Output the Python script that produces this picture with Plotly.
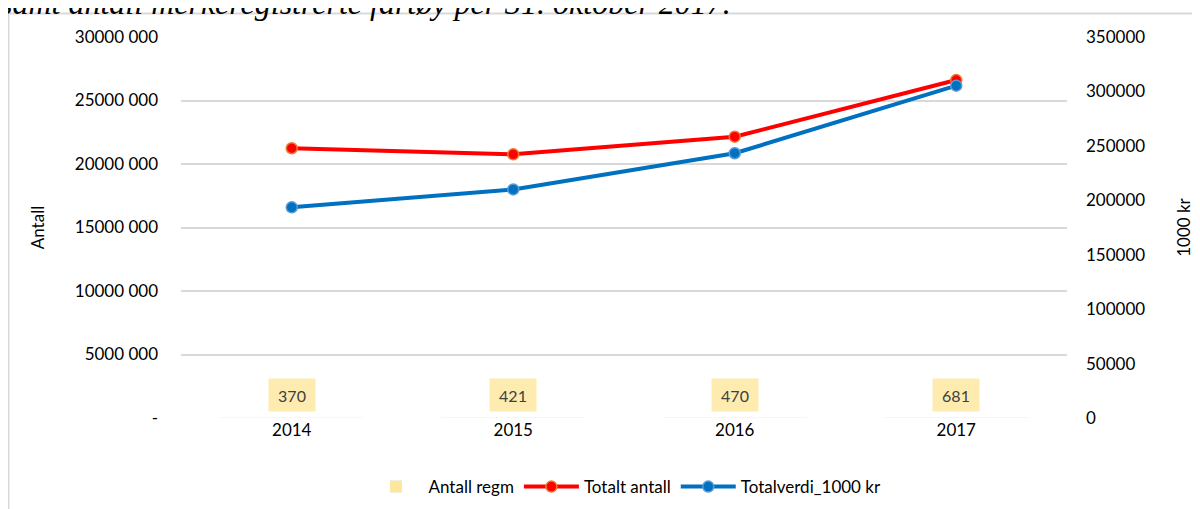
import plotly.graph_objects as go

years = ["2014", "2015", "2016", "2017"]
antall_regm = [370, 421, 470, 681]
totalt_antall = [21240000, 20760000, 22150000, 26610000]
totalverdi = [193500, 210000, 243200, 305300]

left_ticks = [0, 5000000, 10000000, 15000000, 20000000, 25000000, 30000000]
left_ticktext = ["-", "5000 000", "10000 000", "15000 000", "20000 000", "25000 000", "30000 000"]
right_ticks = [0, 50000, 100000, 150000, 200000, 250000, 300000, 350000]
right_ticktext = [str(v) for v in right_ticks]

title_text = "samt antall merkeregistrerte fartøy per 31. oktober 2017."

FONT = "Lato, Carlito, Calibri, sans-serif"
FS = 16

# page body has an 8px default margin; work in figure pixel coords
OFF = 8
PL, PT, PW, PH = 181 - OFF, 37 - OFF, 886, 381
W, H = 1200, 509


def px(xs):
    return (xs - OFF - PL) / PW


def py(ys):
    return (PT + PH - (ys - OFF)) / PH


fig = go.Figure()
fig.add_trace(go.Bar(
    x=years, y=antall_regm, name="Antall regm",
    marker=dict(color="#FFE699"), width=0.65, yaxis="y",
))
fig.add_trace(go.Scatter(
    x=years, y=totalt_antall, name="Totalt antall", mode="lines+markers",
    line=dict(color="#FF0000", width=4),
    marker=dict(size=11, color="#FF0000", line=dict(color="#ED7D31", width=1.5)),
    yaxis="y",
))
fig.add_trace(go.Scatter(
    x=years, y=totalverdi, name="Totalverdi_1000 kr", mode="lines+markers",
    line=dict(color="#0070C0", width=4),
    marker=dict(size=11, color="#0070C0", line=dict(color="#5B9BD5", width=1.5)),
    yaxis="y2",
))

annotations = []
for i, v in enumerate(antall_regm):
    annotations.append(dict(
        x=i, xref="x", y=py(395), yref="paper", text=str(v), showarrow=False,
        font=dict(family=FONT, size=FS, color="#404040"),
        bgcolor="#FDEBB0", width=44, height=30, xanchor="center", yanchor="middle",
    ))
annotations.append(dict(
    x=px(-2), xref="paper", y=py(3), yref="paper",
    text=title_text, showarrow=False, xanchor="left", yanchor="middle",
    font=dict(family="Liberation Serif, serif", size=32, color="#000000", style="italic"),
))

fig.update_layout(
    width=W, height=H,
    margin=dict(l=PL, r=W - PL - PW, t=PT, b=H - PT - PH, autoexpand=False),
    paper_bgcolor="white", plot_bgcolor="white",
    font=dict(family=FONT, size=FS, color="#000000"),
    showlegend=True,
    legend=dict(orientation="h", x=px(625), xanchor="center", y=py(487), yanchor="middle",
                font=dict(family=FONT, size=17, color="#000000"), traceorder="normal",
                itemwidth=55),
    xaxis=dict(type="category", showgrid=False, showline=False, ticks="",
               tickfont=dict(size=17), automargin=False),
    yaxis=dict(range=[0, 30000000], tickvals=left_ticks, ticktext=left_ticktext,
               showgrid=True, gridcolor="#D9D9D9", gridwidth=1.5, zeroline=False,
               showline=False, ticklabelstandoff=22, automargin=False,
               tickfont=dict(size=17),
               title=dict(text="Antall", font=dict(size=17), standoff=25)),
    yaxis2=dict(range=[0, 350000], tickvals=right_ticks, ticktext=right_ticktext,
                overlaying="y", side="right", showgrid=False, zeroline=False,
                showline=False, ticklabelstandoff=18, automargin=False,
                tickfont=dict(size=17),
                title=dict(text="1000 kr", font=dict(size=17), standoff=33)),
    annotations=annotations,
    shapes=[dict(type="rect", xref="paper", yref="paper",
                 x0=px(8.5), x1=px(1230), y0=py(540), y1=py(13.5),
                 line=dict(color="#D9D9D9", width=2), fillcolor="rgba(0,0,0,0)", layer="below")],
    bargap=0.35,
)

fig.write_html("out.html")
